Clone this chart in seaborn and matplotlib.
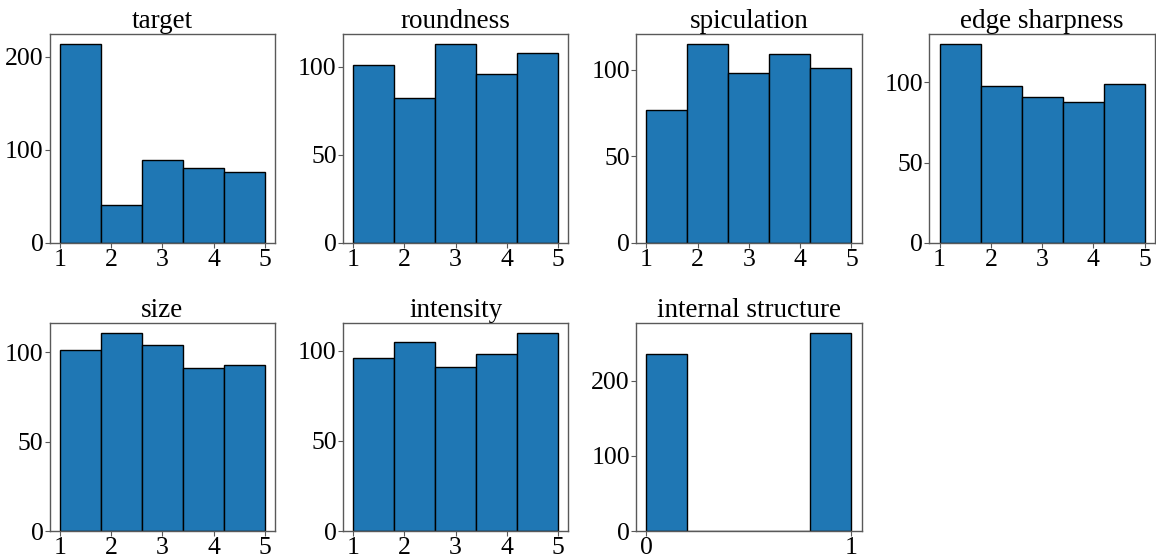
import numpy as np
import pandas as pd
import seaborn as sns
import matplotlib.pyplot as plt

# counts per bin (500 rows)
features = ["target", "roundness", "spiculation", "edge sharpness",
            "size", "intensity", "internal structure"]
levels_5 = [1, 2, 3, 4, 5]
levels_2 = [0, 1]

target = [214, 41, 89, 80, 76]
roundness = [101, 82, 113, 96, 108]
spiculation = [77, 115, 98, 109, 101]
edge_sharpness = [124, 98, 91, 88, 99]
size = [101, 111, 104, 91, 93]
intensity = [96, 105, 91, 98, 110]
internal_structure = [236, 264]

counts = [target, roundness, spiculation, edge_sharpness,
          size, intensity, internal_structure]

plt.rcParams["font.family"] = ["Liberation Serif", "DejaVu Serif"]

fig, axes = plt.subplots(2, 4, figsize=(11.56, 5.58), dpi=100)
fig.subplots_adjust(left=0.043, right=0.999, top=0.939, bottom=0.048,
                    wspace=0.30, hspace=0.383)

for ax, name, cnt in zip(axes.flat, features, counts):
    levels = levels_2 if len(cnt) == 2 else levels_5
    df = pd.DataFrame({name: np.repeat(levels, cnt)})
    sns.histplot(data=df, x=name, bins=5, ax=ax, color="#1f77b4", alpha=1,
                 edgecolor="black", linewidth=1)
    ax.set_title(name, fontsize=19.5, pad=4)
    ax.set_xlabel("")
    ax.set_ylabel("")
    ax.set_xticks(levels)
    ax.tick_params(labelsize=18.5, length=3.5, width=0.8, color="0.35", pad=1)
    for sp in ax.spines.values():
        sp.set_color("0.35")
        sp.set_linewidth(1.0)

axes.flat[-1].axis("off")

plt.savefig("out.png")
plt.close()
